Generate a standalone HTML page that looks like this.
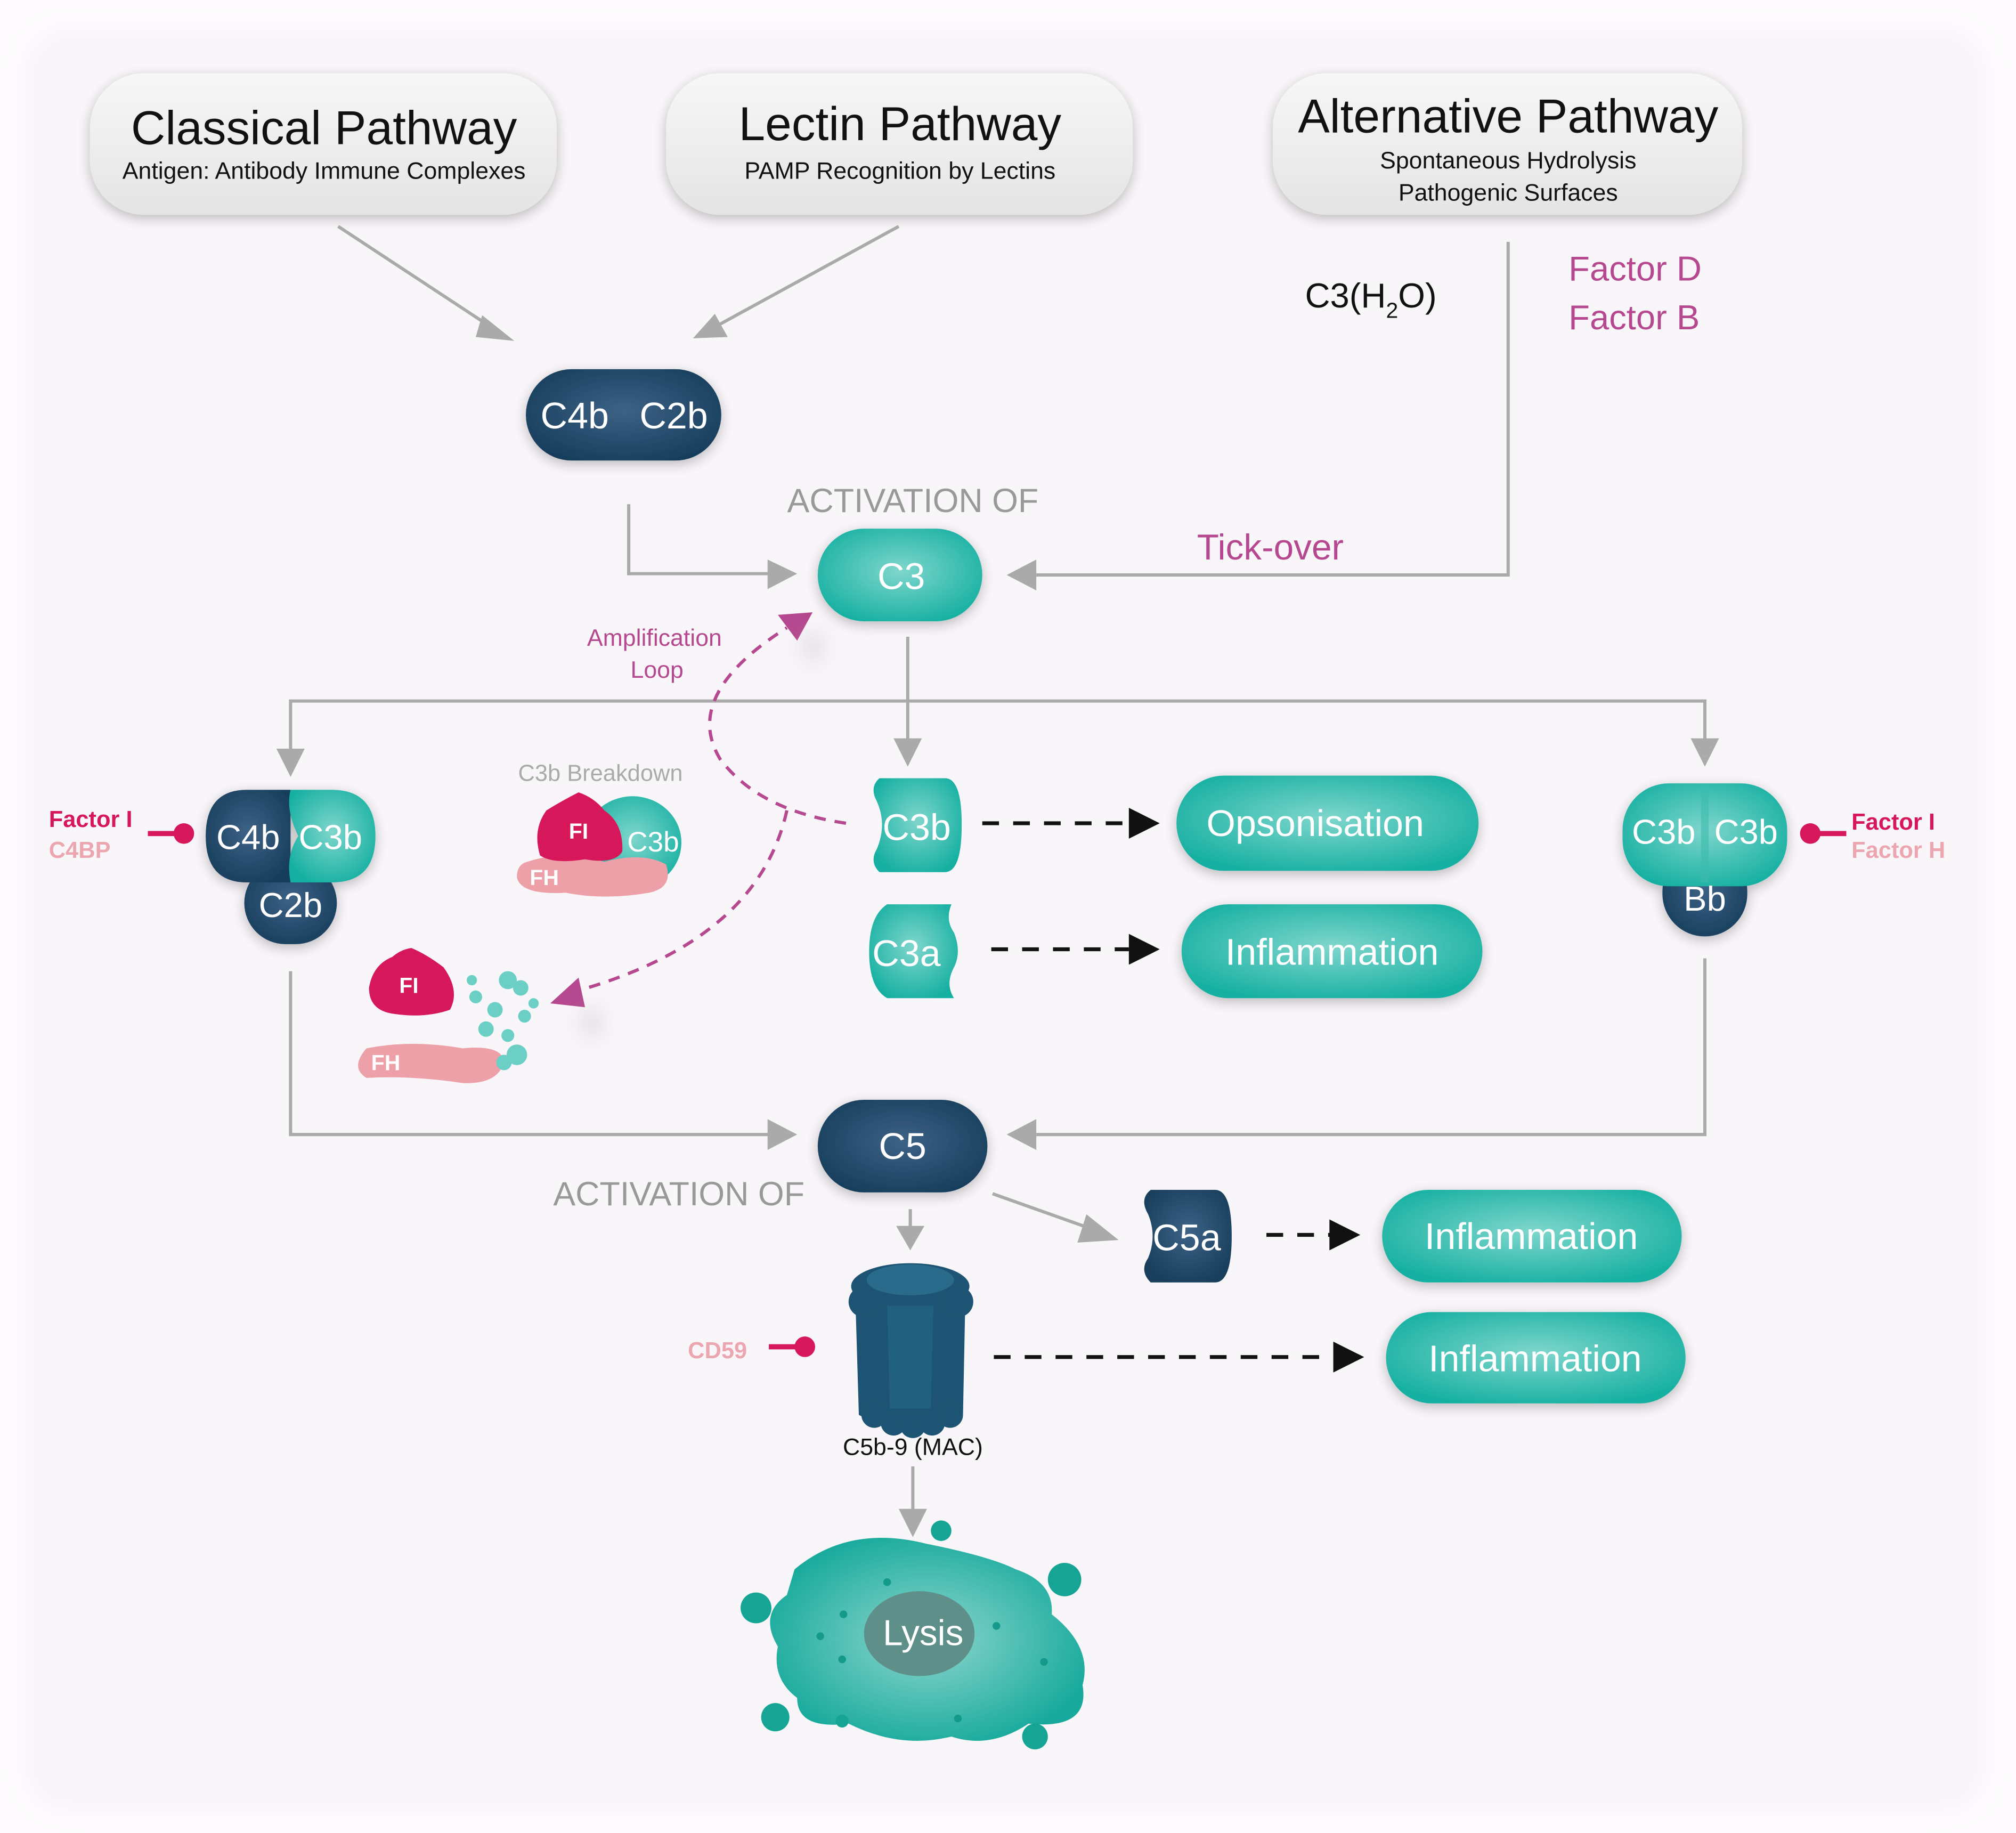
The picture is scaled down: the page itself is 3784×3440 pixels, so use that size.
<!DOCTYPE html>
<html><head><meta charset="utf-8"><style>
html,body{margin:0;padding:0;background:#fff;}
svg{display:block}
text{font-family:"Liberation Sans",sans-serif}
</style></head><body>
<svg width="3784" height="3440" viewBox="0 0 1568 1425" preserveAspectRatio="none" xmlns="http://www.w3.org/2000/svg">
<defs>
<radialGradient id="tl" cx="50%" cy="45%" r="60%"><stop offset="0" stop-color="#7fd6cc"/><stop offset="1" stop-color="#16b0a2"/></radialGradient>
<radialGradient id="nv" cx="50%" cy="45%" r="60%"><stop offset="0" stop-color="#3d6286"/><stop offset="1" stop-color="#183e5c"/></radialGradient>
<linearGradient id="bx" x1="0" y1="0" x2="0" y2="1"><stop offset="0" stop-color="#f7f7f7"/><stop offset="1" stop-color="#e4e4e4"/></linearGradient>
<radialGradient id="cell" cx="50%" cy="50%" r="55%"><stop offset="0" stop-color="#8fd6ce"/><stop offset="1" stop-color="#17aa9c"/></radialGradient>
<filter id="sh" x="-20%" y="-30%" width="140%" height="160%"><feGaussianBlur in="SourceAlpha" stdDeviation="5"/><feOffset dy="3"/><feComponentTransfer><feFuncA type="linear" slope="0.25"/></feComponentTransfer><feMerge><feMergeNode/><feMergeNode in="SourceGraphic"/></feMerge></filter>
<filter id="bl" x="-200%" y="-200%" width="500%" height="500%"><feGaussianBlur stdDeviation="8"/></filter>
<filter id="bl2" x="-10%" y="-10%" width="120%" height="120%"><feGaussianBlur stdDeviation="8"/></filter>
</defs>
<rect width="1568" height="1425" fill="#fdfbfd"/>
<rect x="22" y="25" width="1520" height="1380" rx="30" fill="#f8f3f8" filter="url(#bl2)"/>
<rect x="30" y="32" width="1505" height="1365" rx="20" fill="#f9f6f9"/>

<g filter="url(#sh)">
<rect x="70" y="57" width="363" height="110" rx="42" fill="url(#bx)"/>
<rect x="518" y="57" width="363" height="110" rx="42" fill="url(#bx)"/>
<rect x="990" y="57" width="365" height="110" rx="42" fill="url(#bx)"/>
</g>
<g fill="#111" text-anchor="middle">
<text x="252" y="112" font-size="37">Classical Pathway</text>
<text x="252" y="139" font-size="18.5">Antigen: Antibody Immune Complexes</text>
<text x="700" y="109" font-size="37">Lectin Pathway</text>
<text x="700" y="139" font-size="18.5">PAMP Recognition by Lectins</text>
<text x="1173" y="103" font-size="37">Alternative Pathway</text>
<text x="1173" y="131" font-size="18.5">Spontaneous Hydrolysis</text>
<text x="1173" y="156" font-size="18.5">Pathogenic Surfaces</text>
</g>

<g stroke="#aaa" stroke-width="2.5" fill="none">
<line x1="263" y1="176" x2="380" y2="253"/>
<line x1="699" y1="176" x2="560" y2="252"/>
<polyline points="489,392 489,446 598,446"/>
<polyline points="1173,188 1173,447 806,447"/>
<line x1="706" y1="495" x2="706" y2="575"/>
<polyline points="226,582 226,545 1326,545 1326,575"/>
<polyline points="226,755 226,882 598,882"/>
<polyline points="1326,745 1326,882 806,882"/>
<line x1="708" y1="940" x2="708" y2="955"/>
<line x1="772" y1="928" x2="848" y2="955"/>
<line x1="710" y1="1140" x2="710" y2="1175"/>
</g>
<g fill="#aaa">
<path d="M375,245 L400,265 L370,262z"/>
<path d="M556,244 L539,263 L566,262z"/>
<path d="M597,435 L620,446 L597,458z"/>
<path d="M806,435 L783,447 L806,459z"/>
<path d="M695,574 L717,574 L706,596z"/>
<path d="M215,582 L237,582 L226,604z"/>
<path d="M1315,574 L1337,574 L1326,596z"/>
<path d="M597,870 L620,882 L597,894z"/>
<path d="M806,870 L783,882 L806,894z"/>
<path d="M697,953 L719,953 L708,972z"/>
<path d="M845,944 L870,964 L838,966z"/>
<path d="M699,1173 L721,1173 L710,1195z"/>
</g>

<text x="1015" y="239" font-size="27" fill="#111">C3(H<tspan font-size="17" dy="8">2</tspan><tspan dy="-8">O)</tspan></text>
<text x="1220" y="218" font-size="27" fill="#b5488f">Factor D</text>
<text x="1220" y="256" font-size="27" fill="#b5488f">Factor B</text>
<text x="931" y="435" font-size="28" fill="#b5488f">Tick-over</text>
<text x="710" y="398" font-size="26" fill="#999" text-anchor="middle">ACTIVATION OF</text>
<text x="528" y="937" font-size="26" fill="#999" text-anchor="middle">ACTIVATION OF</text>
<text x="509" y="502" font-size="18.5" fill="#b5488f" text-anchor="middle">Amplification</text>
<text x="511" y="527" font-size="18.5" fill="#b5488f" text-anchor="middle">Loop</text>
<text x="467" y="607" font-size="18" fill="#aaa" text-anchor="middle">C3b Breakdown</text>

<g filter="url(#sh)">
<rect x="409" y="287" width="152" height="71" rx="35.5" fill="url(#nv)"/>
<rect x="636" y="411" width="128" height="72" rx="36" fill="url(#tl)"/>
<rect x="636" y="855" width="132" height="72" rx="36" fill="url(#nv)"/>
<rect x="915" y="603" width="235" height="74" rx="37" fill="url(#tl)"/>
<rect x="919" y="703" width="234" height="73" rx="36.5" fill="url(#tl)"/>
<rect x="1075" y="925" width="233" height="72" rx="36" fill="url(#tl)"/>
<rect x="1078" y="1020" width="233" height="71" rx="35.5" fill="url(#tl)"/>
</g>
<g fill="#fff" font-size="29" text-anchor="middle">
<text x="447" y="333">C4b</text><text x="524" y="333">C2b</text>
<text x="701" y="458">C3</text>
<text x="702" y="901">C5</text>
<text x="1023" y="650">Opsonisation</text>
<text x="1036" y="750">Inflammation</text>
<text x="1191" y="971">Inflammation</text>
<text x="1194" y="1066">Inflammation</text>
</g>

<path d="M684,605 L735,605 Q748,605 748,641 Q748,678 735,678 L684,678 Q676,670 682,660 Q690,641 682,623 Q676,612 684,605z" fill="url(#tl)"/>
<text x="713" y="653" font-size="29" fill="#fff" text-anchor="middle">C3b</text>
<path d="M690,703 L740,703 Q735,715 742,725 Q748,740 742,752 Q735,765 742,776 L690,776 Q676,768 676,740 Q676,712 690,703z" fill="url(#tl)"/>
<text x="705" y="751" font-size="29" fill="#fff" text-anchor="middle">C3a</text>
<path d="M895,925 L945,925 Q958,925 958,961 Q958,997 945,997 L895,997 Q886,988 893,978 Q900,961 893,944 Q886,932 895,925z" fill="url(#nv)"/>
<text x="923" y="972" font-size="29" fill="#fff" text-anchor="middle">C5a</text>

<g stroke="#111" stroke-width="3" stroke-dasharray="13,11">
<line x1="764" y1="640" x2="878" y2="640"/>
<line x1="771" y1="738" x2="878" y2="738"/>
<line x1="985" y1="960" x2="1035" y2="960"/>
<line x1="773" y1="1055" x2="1037" y2="1055"/>
</g>
<g fill="#111">
<path d="M878,628 L902,640 L878,652z"/>
<path d="M878,726 L902,738 L878,750z"/>
<path d="M1034,948 L1058,960 L1034,972z"/>
<path d="M1037,1043 L1061,1055 L1037,1067z"/>
</g>

<g filter="url(#sh)">
<rect x="190" y="670" width="72" height="64" rx="32" fill="url(#nv)"/>
<path d="M226,614 L192,614 Q160,614 160,650 Q160,686 192,686 L226,686z" fill="url(#nv)"/>
<path d="M226,614 L258,614 Q292,614 292,650 Q292,686 258,686 L226,686 Q222,665 232,650 Q222,630 226,614z" fill="url(#tl)"/>
</g>
<g fill="#fff" font-size="27" text-anchor="middle">
<text x="193" y="660">C4b</text><text x="257" y="660">C3b</text><text x="226" y="713">C2b</text>
</g>
<text x="38" y="643" font-size="18" font-weight="bold" fill="#d6185a">Factor I</text>
<text x="38" y="667" font-size="18" font-weight="bold" fill="#eca6b0">C4BP</text>
<line x1="115" y1="648" x2="140" y2="648" stroke="#d6185a" stroke-width="4"/>
<circle cx="143" cy="648" r="8" fill="#d6185a"/>

<g filter="url(#sh)">
<rect x="1293" y="660" width="66" height="68" rx="33" fill="url(#nv)"/>
<rect x="1262" y="609" width="128" height="80" rx="36" fill="url(#tl)"/>
</g>
<line x1="1326" y1="612" x2="1326" y2="686" stroke="#3cbcae" stroke-width="6" opacity="0.6"/>
<g fill="#fff" font-size="27" text-anchor="middle">
<text x="1294" y="656">C3b</text><text x="1358" y="656">C3b</text><text x="1326" y="708">Bb</text>
</g>
<circle cx="1408" cy="648" r="8" fill="#d6185a"/>
<line x1="1410" y1="648" x2="1436" y2="648" stroke="#d6185a" stroke-width="4"/>
<text x="1440" y="645" font-size="18" font-weight="bold" fill="#d6185a">Factor I</text>
<text x="1440" y="667" font-size="18" font-weight="bold" fill="#eca6b0">Factor H</text>

<ellipse cx="492" cy="655" rx="38" ry="36" fill="url(#tl)"/>
<text x="508" y="662" font-size="22" fill="#fff" text-anchor="middle">C3b</text>
<path d="M410,670 Q440,660 470,670 Q500,662 518,672 Q524,690 505,694 Q470,700 440,694 Q405,696 402,682 Q402,672 410,670z" fill="#eda0a8"/>
<text x="412" y="688" font-size="17" font-weight="bold" fill="#fff">FH</text>
<path d="M450,616 Q462,620 470,630 Q485,640 484,662 Q478,672 455,668 Q430,672 420,665 Q414,645 425,630 Q438,622 450,616z" fill="#d6185a"/>
<text x="450" y="652" font-size="17" font-weight="bold" fill="#fff" text-anchor="middle">FI</text>

<path d="M320,737 Q332,742 345,752 Q358,770 350,785 Q330,792 305,788 Q287,785 287,768 Q290,750 305,744 Q312,738 320,737z" fill="#d6185a"/>
<text x="318" y="772" font-size="17" font-weight="bold" fill="#fff" text-anchor="middle">FI</text>
<path d="M285,815 Q320,808 360,815 Q390,812 392,825 Q388,843 360,842 Q320,836 285,838 Q272,830 285,815z" fill="#eda0a8"/>
<text x="300" y="832" font-size="17" font-weight="bold" fill="#fff" text-anchor="middle">FH</text>
<g fill="#6ccfc6">
<circle cx="395" cy="762" r="7"/><circle cx="405" cy="768" r="6"/><circle cx="370" cy="775" r="5"/><circle cx="385" cy="785" r="6"/><circle cx="408" cy="790" r="5"/><circle cx="378" cy="800" r="6"/><circle cx="395" cy="805" r="5"/><circle cx="402" cy="820" r="8"/><circle cx="392" cy="826" r="6"/><circle cx="367" cy="762" r="4"/><circle cx="415" cy="780" r="4"/>
</g>

<g stroke="#b5488f" stroke-width="2.5" fill="none" stroke-dasharray="9,7">
<path d="M658,640 Q590,630 560,590 Q530,540 612,488"/>
<path d="M612,630 Q590,730 450,770"/>
</g>
<path d="M605,478 L632,476 L620,498z" fill="#b5488f"/>
<path d="M450,760 L428,780 L455,783z" fill="#b5488f"/>
<ellipse cx="632" cy="503" rx="8" ry="12" fill="#aaa" opacity="0.35" filter="url(#bl)"/>
<ellipse cx="460" cy="795" rx="8" ry="12" fill="#aaa" opacity="0.35" filter="url(#bl)"/>

<g fill="#1d5473">
<ellipse cx="708" cy="1000" rx="46" ry="18"/>
<path d="M665,1000 L751,1000 L749,1100 Q708,1120 668,1100z"/>
<circle cx="672" cy="1012" r="12"/><circle cx="745" cy="1012" r="12"/>
<circle cx="680" cy="1100" r="10"/><circle cx="695" cy="1106" r="10"/><circle cx="710" cy="1108" r="10"/><circle cx="725" cy="1106" r="10"/><circle cx="739" cy="1100" r="10"/>
</g>
<ellipse cx="708" cy="995" rx="34" ry="12" fill="#2a6a8a"/>
<path d="M690,1015 L726,1015 L724,1095 L692,1095z" fill="#236585" opacity="0.7"/>
<text x="710" y="1131" font-size="18.5" fill="#111" text-anchor="middle">C5b-9 (MAC)</text>
<text x="535" y="1056" font-size="18" font-weight="bold" fill="#eca6b0">CD59</text>
<line x1="598" y1="1047" x2="622" y2="1047" stroke="#d6185a" stroke-width="4"/>
<circle cx="626" cy="1047" r="8" fill="#d6185a"/>

<path d="M618,1220 Q660,1185 720,1200 Q770,1210 790,1220 Q820,1230 818,1255 Q850,1280 842,1310 Q848,1345 800,1340 Q770,1360 740,1350 Q700,1360 660,1340 Q620,1345 620,1320 Q600,1305 605,1280 Q590,1255 612,1240z" fill="url(#cell)"/>
<g fill="#16a595">
<circle cx="588" cy="1250" r="12"/><circle cx="828" cy="1228" r="13"/><circle cx="603" cy="1335" r="11"/><circle cx="655" cy="1338" r="5"/><circle cx="805" cy="1350" r="10"/><circle cx="732" cy="1190" r="8"/>
</g>
<g fill="#139a8b"><circle cx="656" cy="1255" r="3"/><circle cx="638" cy="1272" r="3"/><circle cx="655" cy="1290" r="3"/><circle cx="775" cy="1264" r="3"/><circle cx="812" cy="1292" r="3"/><circle cx="745" cy="1336" r="3"/><circle cx="690" cy="1230" r="3"/></g>
<ellipse cx="715" cy="1270" rx="43" ry="33" fill="#5e8f88"/>
<text x="718" y="1279" font-size="28" fill="#fff" text-anchor="middle">Lysis</text>
</svg>
</body></html>
